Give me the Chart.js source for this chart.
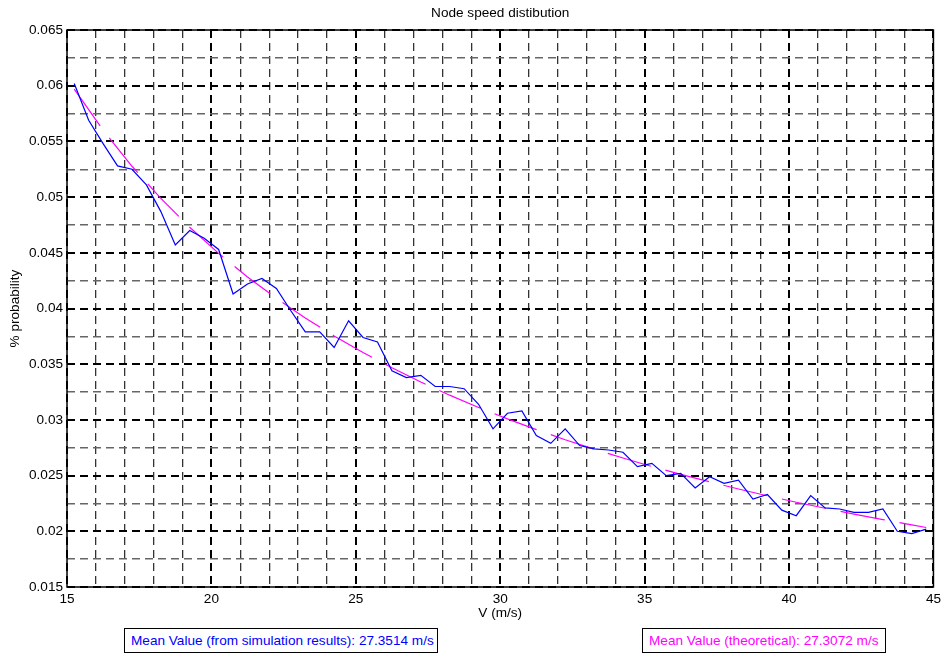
<!DOCTYPE html>
<html>
<head>
<meta charset="utf-8">
<title>Node speed distibution</title>
<script src="https://cdn.jsdelivr.net/npm/chart.js@4.4.1/dist/chart.umd.min.js"></script>
<style>
  html, body { margin: 0; padding: 0; background: #fff; }
  #wrap { position: relative; width: 945px; height: 656px; overflow: hidden; }
  #chart { position: absolute; left: 0; top: 0; }
  .note {
    position: absolute; top: 628px; height: 25px; box-sizing: border-box;
    border: 1px solid #000; background: #fff;
    font-family: "Liberation Sans", Arial, Helvetica, sans-serif; font-size: 13.6px;
    line-height: 23px; padding-left: 6px; white-space: nowrap;
  }
  #noteSim { left: 124px; width: 314px; color: #0000ff; }
  #noteTheory { left: 642px; width: 244px; color: #ff00ff; }
</style>
</head>
<body>
<div id="wrap">
  <canvas id="chart" width="945" height="656"></canvas>
  <div class="note" id="noteSim">Mean Value (from simulation results): 27.3514 m/s</div>
  <div class="note" id="noteTheory">Mean Value (theoretical): 27.3072 m/s</div>
</div>
<script>
// Speed bins (m/s) of the simulated histogram
const speeds = [
  15.25, 15.75, 16.25, 16.75, 17.25, 17.75, 18.25, 18.75, 19.25, 19.75,
  20.25, 20.75, 21.25, 21.75, 22.25, 22.75, 23.25, 23.75, 24.25, 24.75,
  25.25, 25.75, 26.25, 26.75, 27.25, 27.75, 28.25, 28.75, 29.25, 29.75,
  30.25, 30.75, 31.25, 31.75, 32.25, 32.75, 33.25, 33.75, 34.25, 34.75,
  35.25, 35.75, 36.25, 36.75, 37.25, 37.75, 38.25, 38.75, 39.25, 39.75,
  40.25, 40.75, 41.25, 41.75, 42.25, 42.75, 43.25, 43.75, 44.25, 44.75
];

// Simulated probability per bin
const simulated = [
  0.0602, 0.0569, 0.0548, 0.0528, 0.0525, 0.0511, 0.0487, 0.0457, 0.0470, 0.0463,
  0.0453, 0.0413, 0.0422, 0.0427, 0.0418, 0.0398, 0.0379, 0.0379, 0.0365, 0.0389,
  0.0374, 0.0370, 0.0344, 0.0338, 0.0340, 0.0330, 0.0330, 0.0328, 0.0314, 0.0292,
  0.0306, 0.0308, 0.0286, 0.0279, 0.0292, 0.0277, 0.0274, 0.0273, 0.0271, 0.0258,
  0.0261, 0.0250, 0.0252, 0.0239, 0.0249, 0.0243, 0.0246, 0.0229, 0.0233, 0.0219,
  0.0214, 0.0232, 0.0221, 0.0220, 0.0217, 0.0217, 0.0220, 0.0200, 0.0198, 0.0202
];

// Theoretical curve samples
const theorySpeeds = [
  15.25, 16.25, 17.25, 18.25, 19.25, 20.25, 21.25, 22.25, 23.25, 24.25,
  25.25, 26.25, 27.25, 28.25, 29.25, 30.25, 31.25, 32.25, 33.25, 34.25,
  35.25, 36.25, 37.25, 38.25, 39.25, 40.25, 41.25, 42.25, 43.25, 44.25, 44.75
];
const theoretical = [
  0.05969, 0.05601, 0.05277, 0.04988, 0.04729, 0.04495, 0.04283, 0.04091, 0.03915, 0.03754,
  0.03605, 0.03468, 0.03340, 0.03222, 0.03112, 0.03009, 0.02913, 0.02822, 0.02738, 0.02658,
  0.02582, 0.02511, 0.02444, 0.02380, 0.02319, 0.02261, 0.02207, 0.02154, 0.02105, 0.02057, 0.02034
];

// Axis ranges and labelled ticks
const xRange = [15, 45];
const yRange = [0.015, 0.065];
const xMajorStep = 5, xMinorStep = 1;
const yMajorStep = 0.005, yMinorStep = 0.0025;

const FONT = '"Liberation Sans", Arial, Helvetica, sans-serif';
const isMultiple = (v, step) => Math.abs(v / step - Math.round(v / step)) < 1e-6;

const toPoints = (xs, ys) => xs.map((x, i) => ({ x: x, y: ys[i] }));

// Solid frame around the plotting area
const frame = {
  id: 'frame',
  afterDatasetsDraw(chart) {
    const { ctx, chartArea: a } = chart;
    ctx.save();
    ctx.strokeStyle = '#000';
    ctx.lineWidth = 1.5;
    ctx.setLineDash([]);
    ctx.strokeRect(a.left, a.top, a.right - a.left, a.bottom - a.top);
    ctx.restore();
  }
};

new Chart(document.getElementById('chart'), {
  type: 'line',
  data: {
    datasets: [
      {
        label: 'simulation',
        data: toPoints(speeds, simulated),
        borderColor: '#0000ff',
        borderWidth: 1.2,
        pointRadius: 0,
        tension: 0,
        fill: false
      },
      {
        label: 'theoretical',
        data: toPoints(theorySpeeds, theoretical),
        borderColor: '#ff00ff',
        borderWidth: 1.2,
        borderDash: [45, 15],
        pointRadius: 0,
        tension: 0,
        fill: false
      }
    ]
  },
  options: {
    responsive: false,
    animation: false,
    events: [],
    layout: { padding: { left: 0, right: 9, top: 0, bottom: 29 } },
    plugins: {
      legend: { display: false },
      tooltip: { enabled: false },
      title: {
        display: true,
        text: 'Node speed distibution',
        color: '#000',
        fullSize: false,
        font: { family: FONT, size: 13.6, weight: 'normal' },
        padding: { top: 5, bottom: 8.7 }
      }
    },
    scales: {
      x: {
        type: 'linear',
        min: xRange[0],
        max: xRange[1],
        afterFit(scale) { scale.height = 40; },
        border: { display: false, dash: [8, 5] },
        grid: {
          drawTicks: false,
          color: (c) => isMultiple(c.tick.value, xMajorStep) ? '#000' : '#333',
          lineWidth: (c) => isMultiple(c.tick.value, xMajorStep) ? 2 : 1.3
        },
        ticks: {
          stepSize: xMinorStep,
          autoSkip: false,
          maxRotation: 0,
          padding: 4,
          color: '#000',
          font: { family: FONT, size: 13.6 },
          callback: (v) => isMultiple(v, xMajorStep) ? String(v) : ''
        },
        title: {
          display: true,
          text: 'V (m/s)',
          color: '#000',
          font: { family: FONT, size: 13.6 },
          padding: { top: 0, bottom: 6 }
        }
      },
      y: {
        type: 'linear',
        min: yRange[0],
        max: yRange[1],
        afterFit(scale) { scale.width = 67; },
        border: { display: false, dash: [8, 5] },
        grid: {
          drawTicks: false,
          color: (c) => isMultiple(c.tick.value, yMajorStep) ? '#000' : '#666',
          lineWidth: (c) => isMultiple(c.tick.value, yMajorStep) ? 2 : 1.4
        },
        ticks: {
          stepSize: yMinorStep,
          autoSkip: false,
          padding: 4,
          color: '#000',
          font: { family: FONT, size: 13.6 },
          callback: (v) => isMultiple(v, yMajorStep) ? String(Math.round(v * 1000) / 1000) : ''
        },
        title: {
          display: true,
          text: '% probability',
          color: '#000',
          font: { family: FONT, size: 13.6 },
          padding: { top: 7, bottom: 0 }
        }
      }
    }
  },
  plugins: [frame]
});
</script>
</body>
</html>
